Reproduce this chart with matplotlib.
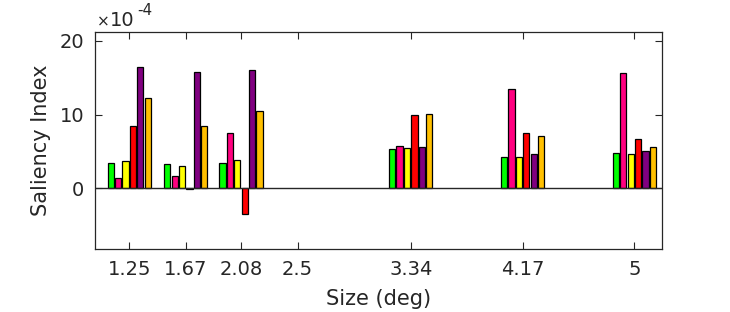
import matplotlib
matplotlib.use("Agg")
import matplotlib.pyplot as plt
import numpy as np

sizes = [1.25, 1.67, 2.08, 2.5, 3.34, 4.17, 5.0]
tick_labels = ["1.25", "1.67", "2.08", "2.5", "3.34", "4.17", "5"]

# values in units of 1e-4
s_green  = [3.5, 3.25, 3.5, 0.0, 5.3, 4.3, 4.75]
s_pink   = [1.35, 1.65, 7.45, 0.0, 5.8, 13.5, 15.65]
s_yellow = [3.65, 3.0, 3.8, 0.0, 5.4, 4.3, 4.7]
s_red    = [8.4, -0.15, -3.5, 0.0, 9.9, 7.55, 6.75]
s_purple = [16.5, 15.8, 16.0, 0.0, 5.55, 4.6, 5.05]
s_orange = [12.2, 8.5, 10.45, 0.0, 10.05, 7.15, 5.65]

series = [s_green, s_pink, s_yellow, s_red, s_purple, s_orange]
colors = ["#00FF00", "#FF0080", "#FFFF00", "#FF0000", "#800080", "#FFC000"]

txt = "#262626"
plt.rcParams['font.family'] = ['DejaVu Sans']

fig = plt.figure(figsize=(7.3, 3.12), dpi=100)
ax = fig.add_axes([0.1305, 0.201, 0.776, 0.697])

step = 0.055
width = 0.047
x = np.array(sizes)
for i, (vals, c) in enumerate(zip(series, colors)):
    off = (i - 2.5) * step
    bars = ax.bar(x + off, vals, width=width, color=c, edgecolor="black", linewidth=0.9, zorder=2)
    for b, v in zip(bars, vals):
        if v == 0:
            b.set_edgecolor("none")

ax.axhline(0, color="#262626", lw=1.0, zorder=3)

ax.set_xlim(0.998, 5.203)
ax.set_ylim(-8.25, 21.2)
ax.set_xticks(sizes)
ax.set_xticklabels(tick_labels)
ax.set_yticks([0, 10, 20])
ax.tick_params(direction="in", length=5, width=0.8, top=True, right=True,
               labelsize=14, colors=txt, pad=8)
for sp in ax.spines.values():
    sp.set_color(txt)
    sp.set_linewidth(0.9)

ax.set_xlabel("Size (deg)", fontsize=15, color=txt, labelpad=7)
ax.set_ylabel("Saliency Index", fontsize=15, color=txt, labelpad=6)

# exponent label
fig.text(97 / 730, 1 - 26 / 312, "\u00d7", fontsize=11, color=txt, ha="left", va="baseline")
fig.text(110 / 730, 1 - 26 / 312, "10", fontsize=14, color=txt, ha="left", va="baseline")
fig.text(137 / 730, 1 - 15 / 312, "-4", fontsize=11, color=txt, ha="left", va="baseline")

fig.savefig("out.png", dpi=100)
